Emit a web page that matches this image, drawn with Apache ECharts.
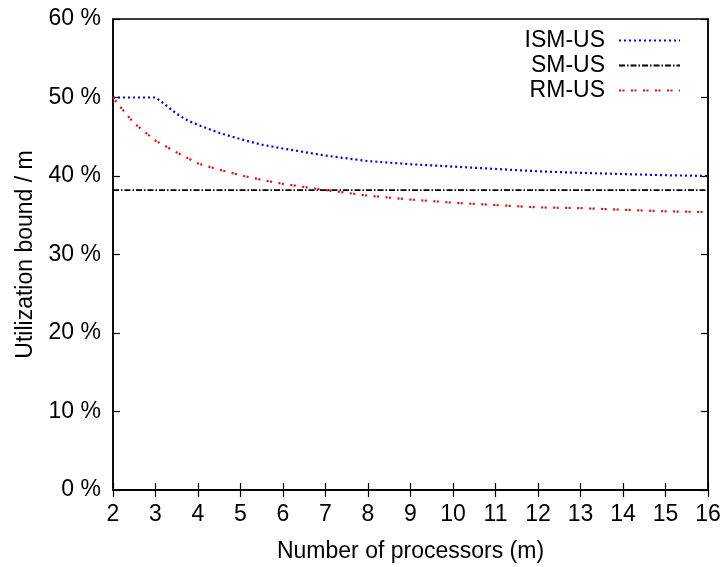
<!DOCTYPE html>
<html>
<head>
<meta charset="utf-8">
<script src="https://cdn.jsdelivr.net/npm/echarts@6/dist/echarts.min.js"></script>
<style>
html,body{margin:0;padding:0;background:#fff;}
#chart{width:727px;height:567px;}
</style>
</head>
<body>
<div id="chart"></div>
<script>
// Data
const ismM = [2, 3, 3.25, 3.5, 3.75, 4, 4.5, 5, 5.5, 6, 7, 8, 9, 10, 11, 12, 13, 14, 15, 16];
const ismU = [50, 50, 49.0, 47.9, 47.1, 46.5, 45.5, 44.7, 44.0, 43.5, 42.6, 41.9, 41.5, 41.2, 40.9, 40.6, 40.4, 40.25, 40.1, 40.0];

const smM = [2, 16];
const smU = [38.2, 38.2];

const rmM = [2, 2.25, 2.5, 2.75, 3, 3.5, 4, 4.5, 5, 5.5, 6, 7, 8, 9, 10, 11, 12, 13, 14, 15, 16];
const rmU = [50, 48.3, 46.7, 45.6, 44.5, 43.0, 41.6, 40.8, 40.1, 39.5, 39.0, 38.2, 37.5, 37.0, 36.6, 36.3, 36.0, 35.9, 35.7, 35.5, 35.4];

const xTicks = [2, 3, 4, 5, 6, 7, 8, 9, 10, 11, 12, 13, 14, 15, 16];
const yTicks = [0, 10, 20, 30, 40, 50, 60];

const seriesNames = ['ISM-US', 'SM-US', 'RM-US'];

function pairs(xs, ys) { return xs.map((x, i) => [x, ys[i]]); }

const FONT = '"Liberation Sans", Arial, Helvetica, sans-serif';
const chart = echarts.init(document.getElementById('chart'), null, {renderer: 'canvas'});

const tickStyle = {show: true, inside: true, length: 7, lineStyle: {color: '#000', width: 1.2}};

chart.setOption({
  animation: false,
  backgroundColor: '#fff',
  grid: {
    left: 113, right: 19, top: 19, bottom: 77,
    show: true, borderColor: '#000', borderWidth: 1.5, backgroundColor: 'transparent',
    containLabel: false, outerBoundsMode: 'none'
  },
  legend: {
    data: seriesNames,
    orient: 'vertical',
    right: 41,
    top: 24,
    align: 'right',
    itemWidth: 61,
    itemHeight: 12,
    itemGap: 2,
    itemStyle: {opacity: 0},
    textStyle: {fontFamily: FONT, fontSize: 23, color: '#000', lineHeight: 23, padding: [0, 9, 0, 0]}
  },
  xAxis: [{
    type: 'value', position: 'bottom',
    min: xTicks[0], max: xTicks[xTicks.length - 1], interval: 1,
    name: 'Number of processors (m)', nameLocation: 'middle', nameGap: 50,
    nameTextStyle: {fontFamily: FONT, fontSize: 23, color: '#000'},
    axisLine: {show: true, lineStyle: {color: '#000', width: 1.5}},
    axisTick: tickStyle,
    axisLabel: {fontFamily: FONT, fontSize: 23, color: '#000', margin: 13,
      formatter: v => xTicks.includes(v) ? String(v) : ''},
    splitLine: {show: false}
  }, {
    type: 'value', position: 'top',
    min: xTicks[0], max: xTicks[xTicks.length - 1], interval: 1,
    axisLine: {show: true, lineStyle: {color: '#000', width: 1.5}},
    axisTick: tickStyle,
    axisLabel: {show: false},
    splitLine: {show: false}
  }],
  yAxis: [{
    type: 'value', position: 'left',
    min: yTicks[0], max: yTicks[yTicks.length - 1], interval: 10,
    name: 'Utilization bound / m', nameLocation: 'middle', nameGap: 76,
    nameTextStyle: {fontFamily: FONT, fontSize: 23, color: '#000'},
    axisLine: {show: true, lineStyle: {color: '#000', width: 1.5}},
    axisTick: tickStyle,
    axisLabel: {fontFamily: FONT, fontSize: 23, color: '#000', margin: 12,
      formatter: v => yTicks.includes(v) ? v + ' %' : ''},
    splitLine: {show: false}
  }, {
    type: 'value', position: 'right',
    min: yTicks[0], max: yTicks[yTicks.length - 1], interval: 10,
    axisLine: {show: true, lineStyle: {color: '#000', width: 1.5}},
    axisTick: tickStyle,
    axisLabel: {show: false},
    splitLine: {show: false}
  }],
  series: [{
    name: seriesNames[0], type: 'line', data: pairs(ismM, ismU),
    showSymbol: false, symbol: 'none', smooth: false,
    lineStyle: {color: '#0000ff', width: 2.2, type: [2, 3]},
    itemStyle: {color: '#0000ff'}
  }, {
    name: seriesNames[1], type: 'line', data: pairs(smM, smU),
    showSymbol: false, symbol: 'none',
    lineStyle: {color: '#000000', width: 1.7, type: [6, 2, 1.5, 2]},
    itemStyle: {color: '#000000'}
  }, {
    name: seriesNames[2], type: 'line', data: pairs(rmM, rmU),
    showSymbol: false, symbol: 'none', smooth: false,
    lineStyle: {color: '#ff0000', width: 2.2, type: [2, 1.5, 2, 6.5]},
    itemStyle: {color: '#ff0000'}
  }]
});
</script>
</body>
</html>
